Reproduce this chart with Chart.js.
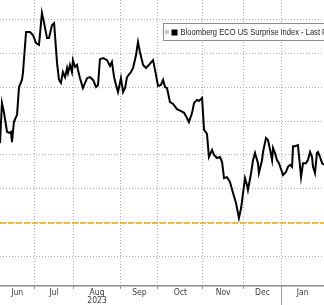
<!DOCTYPE html>
<html lang="en">
<head>
    <meta charset="UTF-8">
    <title>Bloomberg ECO US Surprise Index</title>
    <style>
        body {
            margin: 0;
            background: #fff;
            overflow: hidden;
        }
        #chart {
            display: block;
        }
    </style>
</head>
<body>
    <canvas id="chart" width="324" height="305"></canvas>

    <script src="https://cdn.jsdelivr.net/npm/chart.js"></script>
    <script>
        // month axis, in trading days counted from 1 Jun 2023
        const monthNames = ['Jun', 'Jul', 'Aug', 'Sep', 'Oct', 'Nov', 'Dec', 'Jan'];
        const monthStarts = [0, 21.0, 40.9, 65.1, 84.1, 106.9, 127.8, 147.0, 169.8];
        const yearLabel = '2023';
        const yearMonth = 'Aug';
        const xMin = 3.5;
        const xMax = 168.8;

        const yTicks = [-0.1, 0, 0.1, 0.2, 0.3, 0.4, 0.5, 0.6];
        const yMin = -0.185;
        const yMax = 0.656;

        const seriesLabel = 'Bloomberg ECO US Surprise Index - Last Price';
        const dayIdx = [
            3.5, 4.5, 5.5, 7.1, 8.1, 9.1, 9.6, 10.6, 11.7, 12.2, 13.2, 14.7, 15.2, 16.8, 18.8, 20.3,
            21.9, 23.4, 24.9, 25.9, 27.5, 28.5, 30.0, 31.1, 32.6, 33.6, 34.6, 35.6, 36.7, 37.7, 38.2,
            39.2, 40.2, 40.7, 41.8, 42.8, 43.3, 44.3, 45.8, 47.9, 49.4, 51.0, 52.5, 53.5, 54.5, 56.1,
            58.1, 59.6, 60.6, 61.7, 62.7, 63.7, 65.2, 66.3, 67.3, 68.3, 70.3, 71.4, 72.9, 73.9, 74.9,
            76.5, 78.0, 79.5, 81.6, 83.1, 84.1, 85.6, 86.7, 87.7, 88.7, 90.2, 91.8, 93.8, 95.9, 97.4,
            98.9, 99.9, 101.5, 102.5, 104.0, 105.0, 106.6, 107.6, 109.1, 110.1, 111.7, 112.7, 114.2,
            115.7, 116.8, 117.8, 119.3, 120.8, 122.4, 123.9, 124.9, 125.4, 126.5, 127.5, 128.5, 129.5,
            130.0, 131.6, 132.6, 133.6, 135.1, 135.6, 137.2, 137.7, 139.2, 140.2, 141.3, 142.3, 142.8,
            143.8, 144.8, 145.8, 147.4, 147.9, 149.4, 150.4, 151.5, 152.5, 153.0, 154.0, 155.5, 157.1,
            158.1, 159.6, 160.6, 161.7, 162.7, 163.2, 164.2, 165.2, 165.7, 166.8, 167.8, 168.8
        ];
        const surprise = [
            0.235, 0.353, 0.326, 0.268, 0.265, 0.268, 0.238, 0.297, 0.312, 0.318, 0.400, 0.421, 0.441, 0.562, 0.562, 0.553,
            0.529, 0.524, 0.618, 0.591, 0.544, 0.544, 0.582, 0.588, 0.471, 0.421, 0.412, 0.444, 0.429, 0.456, 0.441,
            0.465, 0.444, 0.479, 0.459, 0.465, 0.450, 0.426, 0.397, 0.426, 0.429, 0.421, 0.400, 0.406, 0.482, 0.485,
            0.479, 0.462, 0.474, 0.429, 0.406, 0.385, 0.426, 0.385, 0.397, 0.429, 0.444, 0.456, 0.494, 0.532, 0.503,
            0.465, 0.456, 0.465, 0.479, 0.435, 0.403, 0.406, 0.421, 0.400, 0.397, 0.356, 0.350, 0.335, 0.329, 0.324,
            0.309, 0.297, 0.324, 0.353, 0.362, 0.359, 0.368, 0.274, 0.262, 0.194, 0.215, 0.200, 0.191,
            0.194, 0.179, 0.132, 0.135, 0.121, 0.088, 0.059, 0.029, 0.015, 0.044, 0.088, 0.132, 0.112,
            0.097, 0.147, 0.185, 0.206, 0.176, 0.147, 0.185, 0.209, 0.250, 0.244, 0.215, 0.185, 0.221,
            0.206, 0.185, 0.176, 0.150, 0.141, 0.150, 0.165, 0.171, 0.165, 0.226, 0.226, 0.229, 0.135,
            0.176, 0.176, 0.185, 0.209, 0.194, 0.165, 0.147, 0.206, 0.209, 0.194, 0.176, 0.171
        ];
        const zeroLine = [0, 0];

        const FONT = '"DejaVu Sans Condensed", "Liberation Sans", Arial, sans-serif';
        const GRID = '#acacac';

        // label sits in the middle of the visible part of each month
        const labelPos = monthNames.map((m, i) => {
            const a = Math.max(monthStarts[i], xMin);
            const b = Math.min(monthStarts[i + 1], xMax);
            return (a + b) / 2;
        });

        function isBoundary(v) {
            return monthStarts.some(s => Math.abs(s - v) < 1e-6);
        }

        function monthLabel(v) {
            const i = labelPos.findIndex(p => Math.abs(p - v) < 1e-6);
            if (i < 0) return '';
            return monthNames[i] === yearMonth ? [monthNames[i], yearLabel] : monthNames[i];
        }

        // white legend box in the top right, cut by the right edge like the original
        const legendBox = {
            id: 'legendBox',
            afterDraw(chart) {
                const ctx = chart.ctx;
                const label = chart.data.datasets[0].label;
                ctx.save();
                ctx.fillStyle = '#fff';
                ctx.strokeStyle = '#8c8c8c';
                ctx.lineWidth = 1;
                ctx.fillRect(163.5, 23.5, 200, 17);
                ctx.strokeRect(163.5, 23.5, 200, 17);
                ctx.fillStyle = '#c8c8c8';
                ctx.fillRect(165, 30, 4, 4);
                ctx.fillStyle = '#000';
                ctx.fillRect(171.5, 29.5, 6, 6);
                ctx.fillStyle = '#222';
                ctx.font = '9px "Liberation Sans", Arial, sans-serif';
                ctx.textBaseline = 'middle';
                // the original uses a narrow face, so squeeze the text
                ctx.fillText(label, 180.5, 32.5, ctx.measureText(label).width * 0.84);
                ctx.restore();
            }
        };

        // long separator tick where the year changes
        const yearTick = {
            id: 'yearTick',
            afterDraw(chart) {
                const x = Math.round(chart.scales.x.getPixelForValue(monthStarts[7])) + 0.5;
                const ctx = chart.ctx;
                ctx.save();
                ctx.strokeStyle = '#9a9a9a';
                ctx.lineWidth = 1;
                ctx.beginPath();
                ctx.moveTo(x, chart.chartArea.bottom);
                ctx.lineTo(x, chart.height);
                ctx.stroke();
                ctx.restore();
            }
        };

        function createChart() {
            const ctx = document.getElementById('chart').getContext('2d');
            Chart.defaults.font.family = FONT;

            new Chart(ctx, {
                type: 'line',
                data: {
                    datasets: [{
                        label: seriesLabel,
                        data: dayIdx.map((d, i) => ({ x: d, y: surprise[i] })),
                        borderColor: '#000',
                        borderWidth: 2,
                        pointRadius: 0,
                        tension: 0
                    }, {
                        label: 'zero',
                        data: zeroLine.map((v, i) => ({ x: i === 0 ? xMin : xMax, y: v })),
                        borderColor: '#f0a800',
                        borderWidth: 1.5,
                        borderDash: [6, 2],
                        pointRadius: 0
                    }]
                },
                options: {
                    responsive: false,
                    animation: false,
                    devicePixelRatio: 1,
                    layout: { padding: 0 },
                    plugins: {
                        legend: { display: false },
                        tooltip: { enabled: false }
                    },
                    scales: {
                        x: {
                            type: 'linear',
                            min: xMin,
                            max: xMax,
                            afterBuildTicks: axis => {
                                const vals = monthStarts.filter(v => v >= xMin && v <= xMax).concat(labelPos);
                                axis.ticks = vals.sort((a, b) => a - b).map(v => ({ value: v }));
                            },
                            ticks: {
                                autoSkip: false,
                                maxRotation: 0,
                                padding: 0,
                                color: '#3a3a3a',
                                font: { size: 8.5, lineHeight: 0.95 },
                                callback: v => monthLabel(v)
                            },
                            grid: {
                                color: c => (c.tick && isBoundary(c.tick.value)) ? GRID : 'transparent',
                                tickColor: c => (c.tick && isBoundary(c.tick.value)) ? '#8a8a8a' : 'transparent',
                                tickLength: 3,
                                lineWidth: 1
                            },
                            border: {
                                display: true,
                                color: '#8a8a8a',
                                width: 1.5,
                                dash: [1, 2]
                            }
                        },
                        y: {
                            min: yMin,
                            max: yMax,
                            afterBuildTicks: axis => {
                                axis.ticks = yTicks.map(v => ({ value: v }));
                            },
                            ticks: { display: false },
                            grid: {
                                color: GRID,
                                drawTicks: false,
                                lineWidth: 1
                            },
                            border: {
                                display: false,
                                dash: [1, 2]
                            }
                        }
                    }
                },
                plugins: [legendBox, yearTick]
            });
        }

        document.addEventListener('DOMContentLoaded', createChart);
    </script>
</body>
</html>
